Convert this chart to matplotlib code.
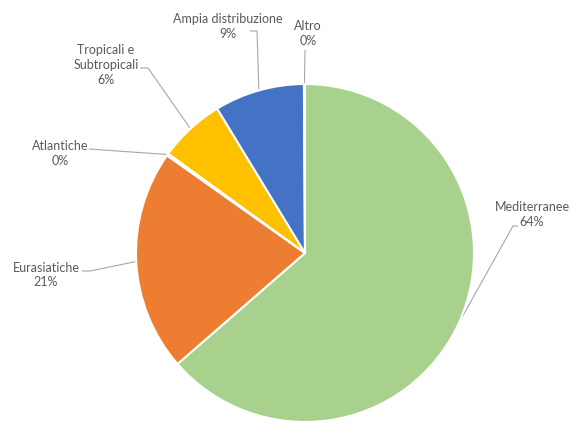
import numpy as np
import matplotlib
matplotlib.use("Agg")
import matplotlib.pyplot as plt

# Distribution of species by chorological group (percent)
categories = ["Mediterranee", "Eurasiatiche", "Atlantiche",
              "Tropicali e\nSubtropicali", "Ampia distribuzione", "Altro"]
values = [63.6, 21.2, 0.2, 6.3, 8.6, 0.1]
colors = ["#A9D18E", "#ED7D31", "#A5A5A5", "#FFC000", "#4472C4", "#5B9BD5"]

W, H = 571, 423
fig = plt.figure(figsize=(W / 100, H / 100), dpi=100)
ax = fig.add_axes([0, 0, 1, 1])

cx, cy, r = 305, H - 253, 169
wedges, _ = ax.pie(values, colors=colors, startangle=90, counterclock=False,
                   center=(cx, cy), radius=r, frame=True,
                   wedgeprops=dict(edgecolor="white", linewidth=1.5))
ax.set_xlim(0, W)
ax.set_ylim(0, H)
ax.set_aspect("equal")
ax.axis("off")

total = sum(values)
labels = [f"{c}\n{v / total * 100:.0f}%" for c, v in zip(categories, values)]

# label centres and leader-line elbows (pixel coordinates, y from top)
label_pos = [(532, 214), (46, 275), (60, 153.5), (106, 65), (228, 26.5), (308, 33.5)]
elbows = [[(518, 226), (513, 226)],
          [(82, 271), (90, 271)],
          [(89, 149)],
          [(140, 68), (148, 68)],
          [(250, 31), (257, 31)],
          [(305, 50)]]

txt_color = "#595959"
line_color = "#A6A6A6"
for w, lab, (lx, ly), pts in zip(wedges, labels, label_pos, elbows):
    ang = np.deg2rad((w.theta1 + w.theta2) / 2)
    ex, ey = cx + r * np.cos(ang), cy + r * np.sin(ang)
    xs = [p[0] for p in pts] + [ex]
    ys = [H - p[1] for p in pts] + [ey]
    ax.plot(xs, ys, color=line_color, lw=0.8, solid_capstyle="butt", zorder=0.5)
    ax.text(lx, H - ly, lab, ha="center", va="center", fontsize=9,
            family="Lato", color=txt_color, linespacing=1.3)

fig.savefig("out.png", dpi=100)
